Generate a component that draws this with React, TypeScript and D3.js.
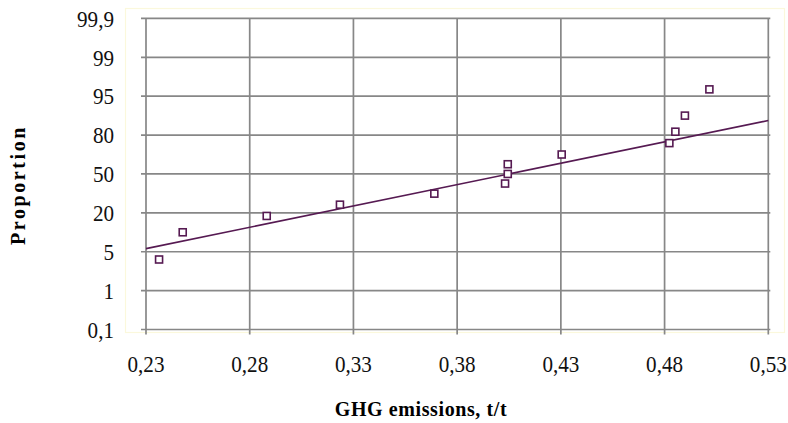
import React from "react";
import * as d3 from "d3";

// GHG emissions (t/t) and the cumulative proportion (%) of each observation
const emissions = [0.2363, 0.2477, 0.2882, 0.3235, 0.369, 0.4031, 0.4044, 0.4044, 0.4304, 0.4823, 0.4852, 0.4898, 0.5016];
const proportions = [4.2, 12.5, 18.8, 26.3, 34.8, 42.6, 50, 57.5, 65, 73.8, 81.3, 87.5, 95.7];

// fitted trend line, given by its two end points
const trendX = [0.23, 0.53];
const trendY = [6.2, 85.6];

const xTicks = [0.23, 0.28, 0.33, 0.38, 0.43, 0.48, 0.53];
const yTicks = [0.1, 1, 5, 20, 50, 80, 95, 99, 99.9];

const W = 788;
const H = 423;
const left = 146;
const right = 768.3;
const top = 18.4;
const bottom = 329.5;

const fmt = (v: number) => String(v).replace(".", ",");

export default function App() {
  const x = d3.scaleLinear().domain([0.23, 0.53]).range([left, right]);
  // probability axis: the labelled percentages sit at equal steps
  const step = (bottom - top) / (yTicks.length - 1);
  const y = d3
    .scaleLinear()
    .domain(yTicks)
    .range(yTicks.map((_, i) => bottom - i * step));

  const line = d3
    .line<number>()
    .x((_, i) => x(trendX[i]))
    .y((_, i) => y(trendY[i]));

  const ink = "#561a52";
  const grid = "#878787";
  const serif = "'Liberation Serif', 'Times New Roman', serif";
  const sx = 0.88; // narrow the tick-label glyphs a little

  return (
    <svg
      width={W}
      height={H}
      style={{ position: "absolute", left: 0, top: 0, background: "#fff" }}
    >
      <rect x={125.5} y={8.5} width={659} height={324} fill="#fff" stroke="#fbf8dc" strokeWidth={1.2} />

      {/* grid and tick marks */}
      {xTicks.map((t) => (
        <line key={"vx" + t} x1={x(t)} x2={x(t)} y1={top} y2={bottom + 5} stroke={grid} strokeWidth={1.7} />
      ))}
      {yTicks.map((t) => (
        <line key={"hy" + t} x1={left - 5} x2={right + 2} y1={y(t)} y2={y(t)} stroke={grid} strokeWidth={1.7} />
      ))}

      {/* tick labels */}
      {xTicks.map((t) => (
        <text
          key={"lx" + t}
          transform={`translate(${x(t)}, 372) scale(${sx}, 1)`}
          textAnchor="middle"
          fontFamily={serif}
          fontSize={24}
          fill="#111"
        >
          {fmt(t)}
        </text>
      ))}
      {yTicks.map((t) => (
        <text
          key={"ly" + t}
          transform={`translate(114, ${y(t) + 8.3}) scale(${sx}, 1)`}
          textAnchor="end"
          fontFamily={serif}
          fontSize={24}
          fill="#111"
        >
          {fmt(t)}
        </text>
      ))}

      {/* trend line */}
      <path d={line([0, 1]) ?? ""} fill="none" stroke={ink} strokeWidth={1.6} />

      {/* observations */}
      {emissions.map((e, i) => (
        <rect
          key={"p" + i}
          x={x(e) - 3.5}
          y={y(proportions[i]) - 3.5}
          width={7}
          height={7}
          fill="#fff"
          stroke={ink}
          strokeWidth={1.6}
        />
      ))}

      {/* axis titles */}
      <text
        x={421}
        y={416}
        textAnchor="middle"
        fontFamily={serif}
        fontWeight="bold"
        fontSize={20}
        letterSpacing={0.6}
        fill="#000"
      >
        GHG emissions, t/t
      </text>
      <text
        transform={`translate(25, 185) rotate(-90)`}
        textAnchor="middle"
        fontFamily={serif}
        fontWeight="bold"
        fontSize={20}
        letterSpacing={2.6}
        fill="#000"
      >
        Proportion
      </text>
    </svg>
  );
}
